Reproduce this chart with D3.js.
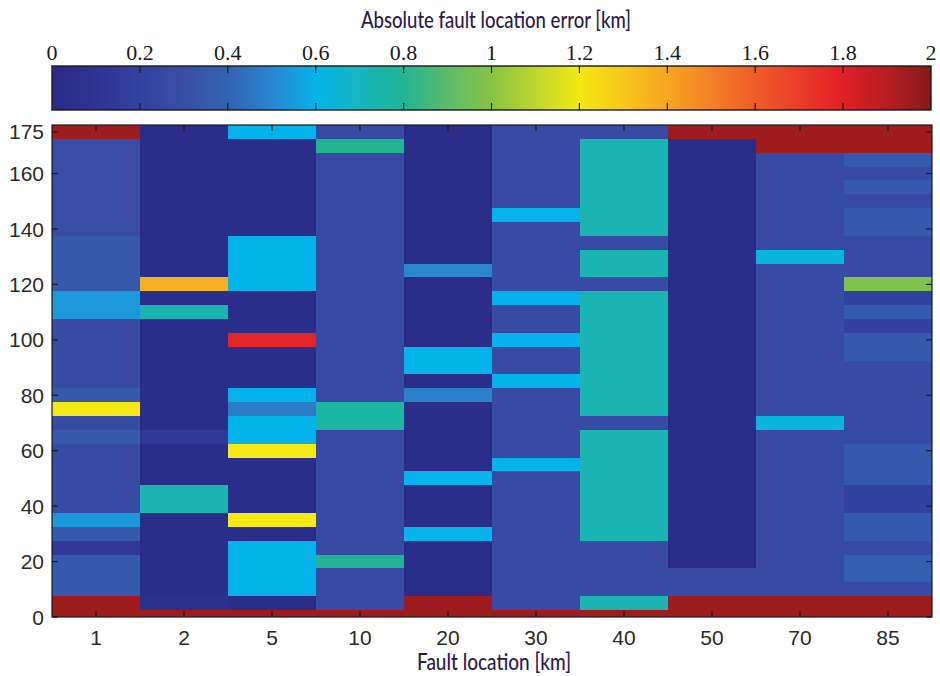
<!DOCTYPE html>
<html>
<head>
<meta charset="utf-8">
<script src="https://cdn.jsdelivr.net/npm/d3@7/dist/d3.min.js"></script>
<style>
  html, body { margin: 0; padding: 0; background: #fff; }
  svg { display: block; }
</style>
</head>
<body>
<svg id="chart" width="940" height="676"></svg>
<script>
// Fault locations (columns) and distances along the line (rows, km)
const faultLocations = ["1", "2", "5", "10", "20", "30", "40", "50", "70", "85"];
const distances = [0, 5, 10, 15, 20, 25, 30, 35, 40, 45, 50, 55, 60, 65, 70, 75, 80, 85,
                   90, 95, 100, 105, 110, 115, 120, 125, 130, 135, 140, 145, 150, 155, 160, 165, 170, 175];

// Absolute fault location error [km] per fault location, listed from distance 0 to 175
const err1  = [1.95, 1.95, 0.36, 0.36, 0.36, 0.12, 0.36, 0.54, 0.27, 0.27, 0.27, 0.27, 0.27, 0.35, 0.27, 1.2,
               0.35, 0.27, 0.27, 0.27, 0.27, 0.27, 0.54, 0.54, 0.35, 0.35, 0.35, 0.35, 0.28, 0.28, 0.28, 0.28,
               0.28, 0.28, 0.28, 1.95];
const err2  = [1.95, 0.06, 0.03, 0.03, 0.03, 0.03, 0.03, 0.03, 0.73, 0.73, 0.03, 0.03, 0.03, 0.13, 0.03, 0.03,
               0.03, 0.03, 0.03, 0.03, 0.03, 0.03, 0.73, 0.03, 1.37, 0.03, 0.03, 0.03, 0.03, 0.03, 0.03, 0.03,
               0.03, 0.03, 0.03, 0.03];
const err5  = [1.95, 0.03, 0.6, 0.6, 0.6, 0.6, 0.03, 1.2, 0.03, 0.03, 0.03, 0.03, 1.2, 0.6, 0.6, 0.47,
               0.6, 0.03, 0.03, 0.03, 1.78, 0.03, 0.03, 0.03, 0.6, 0.6, 0.6, 0.6, 0.03, 0.03, 0.03, 0.03,
               0.03, 0.03, 0.03, 0.6];
const err10 = [1.95, 0.27, 0.27, 0.27, 0.8, 0.27, 0.27, 0.27, 0.27, 0.27, 0.27, 0.27, 0.27, 0.27, 0.76, 0.76,
               0.27, 0.27, 0.27, 0.27, 0.27, 0.27, 0.27, 0.27, 0.27, 0.27, 0.27, 0.27, 0.27, 0.27, 0.27, 0.27,
               0.27, 0.27, 0.8, 0.27];
const err20 = [1.95, 1.95, 0.03, 0.03, 0.03, 0.03, 0.6, 0.03, 0.03, 0.03, 0.6, 0.03, 0.03, 0.03, 0.03, 0.03,
               0.48, 0.03, 0.6, 0.6, 0.03, 0.03, 0.03, 0.03, 0.03, 0.5, 0.03, 0.03, 0.03, 0.03, 0.03, 0.03,
               0.03, 0.03, 0.03, 0.03];
const err30 = [1.95, 0.27, 0.27, 0.27, 0.27, 0.27, 0.27, 0.27, 0.27, 0.27, 0.27, 0.6, 0.27, 0.27, 0.27, 0.27,
               0.27, 0.6, 0.27, 0.27, 0.6, 0.27, 0.27, 0.6, 0.27, 0.27, 0.27, 0.27, 0.27, 0.6, 0.27, 0.27,
               0.27, 0.27, 0.27, 0.27];
const err40 = [1.95, 0.73, 0.27, 0.27, 0.27, 0.27, 0.73, 0.73, 0.73, 0.73, 0.73, 0.73, 0.73, 0.73, 0.27, 0.73,
               0.73, 0.73, 0.73, 0.73, 0.73, 0.73, 0.73, 0.73, 0.27, 0.73, 0.73, 0.27, 0.73, 0.73, 0.73, 0.73,
               0.73, 0.73, 0.73, 0.27];
const err50 = [1.95, 1.95, 0.27, 0.27, 0.03, 0.03, 0.03, 0.03, 0.03, 0.03, 0.03, 0.03, 0.03, 0.03, 0.03, 0.03,
               0.03, 0.03, 0.03, 0.03, 0.03, 0.03, 0.03, 0.03, 0.03, 0.03, 0.03, 0.03, 0.03, 0.03, 0.03, 0.03,
               0.03, 0.03, 0.03, 1.95];
const err70 = [1.95, 1.95, 0.27, 0.27, 0.27, 0.27, 0.27, 0.27, 0.27, 0.27, 0.27, 0.27, 0.27, 0.27, 0.63, 0.27,
               0.27, 0.27, 0.27, 0.27, 0.27, 0.27, 0.27, 0.27, 0.27, 0.27, 0.63, 0.27, 0.27, 0.27, 0.27, 0.27,
               0.27, 0.27, 1.95, 1.95];
const err85 = [1.95, 1.95, 0.27, 0.38, 0.38, 0.27, 0.36, 0.36, 0.2, 0.2, 0.36, 0.36, 0.36, 0.27, 0.27, 0.27,
               0.27, 0.27, 0.27, 0.36, 0.36, 0.2, 0.36, 0.2, 0.98, 0.27, 0.27, 0.27, 0.36, 0.36, 0.27, 0.36,
               0.27, 0.36, 1.95, 1.95];
const errorColumns = [err1, err2, err5, err10, err20, err30, err40, err50, err70, err85];

// Colour bar
const colorTicks = [0, 0.2, 0.4, 0.6, 0.8, 1, 1.2, 1.4, 1.6, 1.8, 2];
const colorStops = [0, 0.1, 0.2, 0.3, 0.4, 0.5, 0.6, 0.7, 0.8, 0.9, 1.0,
                    1.1, 1.2, 1.3, 1.4, 1.5, 1.6, 1.7, 1.8, 1.9, 2.0];
const colorValues = ["#2a2a86", "#2e3492", "#3240a0", "#3a4fa6", "#3262b1", "#2a86cf", "#04b3ea",
                     "#16b5c0", "#22b594", "#5cbb6a", "#88c444", "#bfd62e", "#f4e912", "#f8c61b",
                     "#f7a520", "#f48026", "#ef5c2a", "#e93d29", "#e11f26", "#b81d22", "#861a1a"];
const yTicks = [0, 20, 40, 60, 80, 100, 120, 140, 160, 175];

const svg = d3.select("#chart");

const plot = { left: 52, right: 932, top: 125, bottom: 617 };
const bar = { left: 52, right: 931, top: 66, bottom: 110 };

const x = d3.scaleBand().domain(faultLocations).range([plot.left, plot.right]).padding(0);
const y = d3.scaleLinear().domain([0, 177.5]).range([plot.bottom, plot.top]);
const color = d3.scaleLinear().domain(colorStops).range(colorValues)
  .interpolate(d3.interpolateRgb).clamp(true);
const cb = d3.scaleLinear().domain([0, 2]).range([bar.left, bar.right]);

// Heat map cells: each distance row covers ±2.5 km, clipped to the axis range
const cells = [];
faultLocations.forEach((loc, i) => {
  distances.forEach((d, j) => {
    cells.push({ loc, d, v: errorColumns[i][j] });
  });
});
svg.append("g").attr("shape-rendering", "crispEdges")
  .selectAll("rect").data(cells).join("rect")
  .attr("x", c => Math.round(x(c.loc)))
  .attr("width", c => Math.round(x(c.loc) + x.bandwidth()) - Math.round(x(c.loc)))
  .attr("y", c => Math.round(y(Math.min(c.d + 2.5, 177.5))))
  .attr("height", c => Math.round(y(Math.max(c.d - 2.5, 0))) - Math.round(y(Math.min(c.d + 2.5, 177.5))))
  .attr("fill", c => color(c.v));

// Plot frame
svg.append("rect")
  .attr("x", plot.left).attr("y", plot.top)
  .attr("width", plot.right - plot.left).attr("height", plot.bottom - plot.top)
  .attr("fill", "none").attr("stroke", "#1a1a1a").attr("stroke-width", 1.2);

// Inward ticks on all four sides
const tickLen = 6;
const tk = svg.append("g").attr("stroke", "#1a1a1a").attr("stroke-width", 1.2);
yTicks.forEach(t => {
  tk.append("line").attr("x1", plot.left).attr("x2", plot.left + tickLen).attr("y1", y(t)).attr("y2", y(t));
  tk.append("line").attr("x1", plot.right).attr("x2", plot.right - tickLen).attr("y1", y(t)).attr("y2", y(t));
});
faultLocations.forEach(f => {
  const cx = x(f) + x.bandwidth() / 2;
  tk.append("line").attr("x1", cx).attr("x2", cx).attr("y1", plot.bottom).attr("y2", plot.bottom - tickLen);
  tk.append("line").attr("x1", cx).attr("x2", cx).attr("y1", plot.top).attr("y2", plot.top + tickLen);
});

// Axis labels
const axisFont = "'Liberation Sans', Arial, sans-serif";
svg.append("g").selectAll("text").data(yTicks).join("text")
  .attr("x", 44).attr("y", t => y(t)).attr("dy", "0.36em")
  .attr("text-anchor", "end")
  .attr("font-family", axisFont).attr("font-size", 21).attr("fill", "#2a2a2a")
  .text(t => t);
svg.append("g").selectAll("text").data(faultLocations).join("text")
  .attr("x", f => x(f) + x.bandwidth() / 2).attr("y", 645)
  .attr("text-anchor", "middle")
  .attr("font-family", axisFont).attr("font-size", 21).attr("fill", "#2a2a2a")
  .text(f => f);

const titleFont = "Lato, 'Open Sans', sans-serif";
svg.append("text")
  .attr("x", 494).attr("y", 670).attr("text-anchor", "middle")
  .attr("font-family", titleFont).attr("font-size", 23).attr("font-weight", 500).attr("fill", "#2b1a4d")
  .attr("textLength", 154).attr("lengthAdjust", "spacingAndGlyphs")
  .text("Fault location [km]");

// Colour bar
const grad = svg.append("defs").append("linearGradient").attr("id", "errGrad")
  .attr("x1", "0%").attr("x2", "100%").attr("y1", "0%").attr("y2", "0%");
grad.selectAll("stop").data(colorStops).join("stop")
  .attr("offset", s => (s / 2 * 100) + "%")
  .attr("stop-color", s => color(s));
svg.append("rect")
  .attr("x", bar.left).attr("y", bar.top)
  .attr("width", bar.right - bar.left).attr("height", bar.bottom - bar.top)
  .attr("fill", "url(#errGrad)").attr("stroke", "#1a1a1a").attr("stroke-width", 1.4);
const cbt = svg.append("g").attr("stroke", "#1a1a1a").attr("stroke-width", 1.2);
colorTicks.slice(1, -1).forEach(t => {
  cbt.append("line").attr("x1", cb(t)).attr("x2", cb(t)).attr("y1", bar.top).attr("y2", bar.top + 7);
  cbt.append("line").attr("x1", cb(t)).attr("x2", cb(t)).attr("y1", bar.bottom).attr("y2", bar.bottom - 7);
});
svg.append("g").selectAll("text").data(colorTicks).join("text")
  .attr("x", t => cb(t)).attr("y", 60)
  .attr("text-anchor", "middle")
  .attr("font-family", "'Liberation Serif', 'Times New Roman', serif")
  .attr("font-size", 22).attr("fill", "#1a1a1a")
  .text(t => t);

svg.append("text")
  .attr("x", 496).attr("y", 28).attr("text-anchor", "middle")
  .attr("font-family", titleFont).attr("font-size", 23).attr("font-weight", 500).attr("fill", "#2b1a4d")
  .attr("textLength", 270).attr("lengthAdjust", "spacingAndGlyphs")
  .text("Absolute fault location error [km]");
</script>
</body>
</html>
